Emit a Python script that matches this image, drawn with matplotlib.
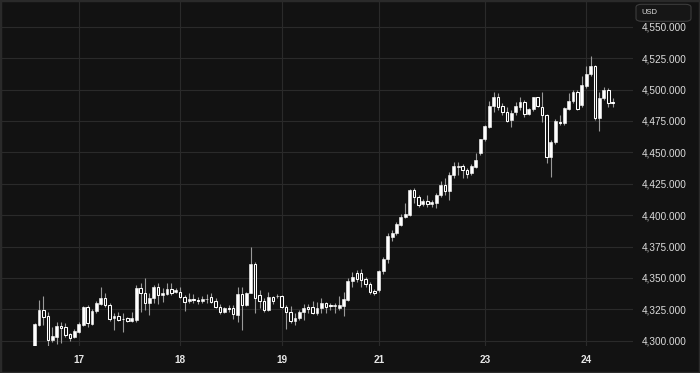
import matplotlib
matplotlib.use("Agg")
import matplotlib.pyplot as plt
from matplotlib.patches import FancyBboxPatch, Rectangle
import numpy as np

# hourly candles, index 0..131
opens = [4295.0, 4312.5, 4324.5, 4319.7, 4300.2, 4303.2, 4311.7, 4310.6, 4305.1, 4303.2,
         4307.2, 4312.5, 4326.6, 4313.3, 4323.9, 4329.2, 4333.7, 4328.4, 4317.8, 4319.7,
         4317.3, 4317.8, 4316.0, 4316.5, 4341.7, 4338.3, 4330.3, 4333.7, 4342.5, 4336.4,
         4337.2, 4341.2, 4338.5, 4339.0, 4334.6, 4331.6, 4333.0, 4332.6, 4331.6, 4333.0,
         4334.6, 4331.6, 4327.1, 4323.1, 4325.8, 4326.3, 4320.5, 4336.9, 4328.4, 4338.3,
         4360.8, 4336.5, 4332.0, 4324.5, 4334.5, 4335.3, 4335.6, 4326.6, 4323.1, 4316.0,
         4317.8, 4322.6, 4326.8, 4326.6, 4321.8, 4325.8, 4329.7, 4328.0, 4327.6, 4326.3,
         4327.6, 4332.4, 4347.8, 4353.6, 4353.6, 4348.8, 4344.9, 4339.8, 4340.3, 4355.3,
         4364.8, 4382.8, 4385.8, 4392.1, 4398.2, 4400.1, 4420.0, 4414.6, 4408.5, 4411.4,
         4408.8, 4409.9, 4416.0, 4424.0, 4419.6, 4431.6, 4438.3, 4439.1, 4435.9, 4433.2,
         4438.5, 4449.2, 4460.3, 4470.4, 4486.9, 4493.8, 4486.9, 4482.4, 4475.7, 4481.8,
         4486.3, 4490.3, 4480.4, 4484.2, 4493.7, 4486.3, 4479.6, 4445.9, 4458.4, 4474.5,
         4473.0, 4484.5, 4490.7, 4498.2, 4487.6, 4502.7, 4512.3, 4518.9, 4477.5, 4492.9,
         4499.5, 4489.6]
highs = [4314.0, 4332.4, 4335.6, 4323.1, 4311.2, 4315.2, 4315.2, 4314.4, 4306.2, 4309.0,
         4315.2, 4327.6, 4328.4, 4325.0, 4331.9, 4342.5, 4337.7, 4329.8, 4321.8, 4323.1,
         4322.3, 4319.1, 4323.1, 4344.4, 4345.7, 4349.7, 4338.3, 4344.4, 4345.7, 4341.7,
         4346.2, 4346.2, 4341.7, 4343.0, 4336.4, 4337.7, 4337.2, 4334.6, 4335.6, 4337.2,
         4338.3, 4333.8, 4329.2, 4327.1, 4328.4, 4328.4, 4343.0, 4343.0, 4339.0, 4374.9,
         4362.9, 4340.0, 4334.0, 4339.0, 4335.6, 4337.1, 4336.2, 4328.4, 4327.6, 4321.7,
         4324.5, 4329.2, 4329.2, 4331.6, 4331.1, 4333.7, 4331.1, 4329.7, 4329.7, 4335.6,
         4339.0, 4349.6, 4355.0, 4356.3, 4356.8, 4351.1, 4347.0, 4340.9, 4356.0, 4366.3,
         4385.5, 4388.5, 4394.8, 4400.6, 4409.6, 4420.6, 4421.3, 4416.0, 4413.2, 4416.0,
         4412.0, 4417.3, 4427.4, 4429.3, 4434.6, 4442.6, 4442.6, 4440.9, 4437.3, 4440.6,
         4449.7, 4461.0, 4471.8, 4491.1, 4498.3, 4497.0, 4489.0, 4485.8, 4483.7, 4490.3,
         4493.7, 4491.6, 4485.0, 4494.2, 4494.2, 4498.2, 4480.2, 4459.7, 4476.2, 4479.6,
         4485.8, 4496.9, 4499.6, 4499.6, 4510.7, 4518.7, 4526.6, 4519.4, 4498.2, 4501.7,
         4500.9, 4492.9]
lows = [4294.0, 4311.7, 4312.5, 4295.8, 4299.3, 4297.4, 4298.0, 4303.2, 4300.1, 4301.9,
        4306.4, 4311.7, 4311.2, 4312.5, 4321.8, 4328.4, 4327.1, 4316.0, 4308.5, 4316.0,
        4307.2, 4315.2, 4315.2, 4315.0, 4323.1, 4324.4, 4320.5, 4329.8, 4329.2, 4331.1,
        4336.4, 4336.4, 4337.7, 4333.8, 4324.0, 4330.3, 4329.8, 4329.2, 4330.3, 4330.3,
        4329.8, 4325.8, 4321.3, 4321.8, 4323.1, 4317.0, 4315.2, 4308.5, 4327.6, 4337.7,
        4322.3, 4326.0, 4322.5, 4323.5, 4329.2, 4333.7, 4325.8, 4309.0, 4313.8, 4312.5,
        4316.4, 4316.9, 4322.0, 4321.3, 4320.5, 4321.8, 4322.3, 4324.5, 4321.8, 4324.5,
        4319.6, 4331.9, 4343.0, 4346.9, 4343.0, 4343.0, 4337.2, 4336.4, 4339.0, 4353.0,
        4361.6, 4379.5, 4384.2, 4391.3, 4397.4, 4399.2, 4409.3, 4406.5, 4407.2, 4406.8,
        4406.8, 4406.0, 4414.6, 4416.0, 4412.4, 4429.2, 4431.9, 4429.2, 4429.2, 4431.9,
        4437.9, 4448.0, 4459.3, 4469.0, 4482.4, 4483.7, 4479.7, 4474.4, 4470.3, 4479.6,
        4483.6, 4478.3, 4479.6, 4483.1, 4485.8, 4474.3, 4441.7, 4430.6, 4456.6, 4471.7,
        4471.7, 4483.6, 4488.9, 4483.6, 4486.3, 4500.9, 4510.7, 4475.7, 4467.2, 4491.6,
        4485.8, 4485.8]
closes = [4313.3, 4324.5, 4319.1, 4300.6, 4303.8, 4311.7, 4310.1, 4304.5, 4301.9, 4308.0,
          4313.3, 4326.6, 4313.8, 4323.9, 4329.8, 4333.7, 4328.4, 4317.0, 4319.7, 4316.5,
          4317.0, 4316.0, 4317.8, 4341.7, 4338.3, 4330.3, 4333.7, 4342.5, 4336.4, 4338.3,
          4341.2, 4337.7, 4340.4, 4334.6, 4331.1, 4333.2, 4332.8, 4332.0, 4333.2, 4333.2,
          4331.1, 4326.6, 4323.1, 4325.8, 4325.5, 4321.3, 4336.9, 4328.4, 4338.3, 4360.8,
          4333.7, 4332.0, 4324.5, 4334.6, 4331.8, 4335.8, 4326.6, 4323.1, 4316.0, 4318.3,
          4322.6, 4326.3, 4325.2, 4321.8, 4326.3, 4329.7, 4327.1, 4327.8, 4327.9, 4328.4,
          4332.9, 4347.8, 4350.4, 4348.8, 4348.3, 4344.9, 4339.0, 4337.7, 4355.7, 4365.2,
          4383.3, 4386.1, 4393.0, 4398.8, 4400.8, 4420.0, 4414.2, 4408.0, 4411.3, 4408.6,
          4410.7, 4416.0, 4424.0, 4419.5, 4432.2, 4439.1, 4438.6, 4435.6, 4432.7, 4439.1,
          4443.9, 4460.3, 4471.0, 4486.9, 4493.8, 4486.3, 4482.4, 4475.2, 4481.6, 4487.1,
          4490.3, 4480.4, 4484.2, 4494.0, 4486.8, 4479.6, 4446.5, 4458.4, 4475.1, 4473.0,
          4485.0, 4491.0, 4497.7, 4484.2, 4503.5, 4512.3, 4518.9, 4477.5, 4492.9, 4499.5,
          4489.0, 4489.3]

day_idx = [10, 33, 56, 78, 102, 125]
day_labels = ["17", "18", "19", "21", "23", "24"]
price_ticks = [4300, 4325, 4350, 4375, 4400, 4425, 4450, 4475, 4500, 4525, 4550]
currency = "USD"

bg = "#121212"
grid_c = "#2a2a2a"
text_c = "#dcdcdc"

W, H = 700, 373
fig = plt.figure(figsize=(W / 100, H / 100), dpi=100, facecolor=bg)
ax = fig.add_axes([0, 27 / H, 633 / W, 346 / H], facecolor=bg)

o = np.array(opens)
h = np.array(highs)
l = np.array(lows)
c = np.array(closes)
x = np.arange(len(o))
up = c >= o

ax.vlines(x, l, h, color="#9a9a9a", linewidth=0.8, zorder=2)
body_lo = np.minimum(o, c)
body_h = np.maximum(np.abs(c - o), 0.5)
ax.bar(x[up], body_h[up], bottom=body_lo[up], width=0.66, color="white",
       edgecolor="white", linewidth=0.4, zorder=3)
ax.bar(x[~up], body_h[~up], bottom=body_lo[~up], width=0.56, color=bg,
       edgecolor="white", linewidth=0.75, zorder=3)

ax.set_xlim(-7.84, 135.6)
ax.set_ylim(4295.8, 4571.3)

ax.set_xticks(day_idx)
ax.set_xticklabels(day_labels, fontfamily="Liberation Sans", fontweight="bold",
                   fontsize=7.2, color="#e6e6e6")
ax.set_yticks(price_ticks)
ax.set_yticklabels([f"{v:,.3f}" for v in price_ticks], fontfamily="Liberation Sans",
                   fontsize=7.2, color=text_c)
ax.yaxis.tick_right()
ax.tick_params(axis="y", length=0, pad=6)
ax.tick_params(axis="x", length=0, pad=6.5)
ax.grid(True, color=grid_c, linewidth=0.8, zorder=0)
ax.set_axisbelow(True)
for s in ax.spines.values():
    s.set_visible(False)

# cover behind the currency box, then the box itself
fig.patches.append(Rectangle((634 / W, (H - 22.5) / H), 62 / W, 22.5 / H,
                             transform=fig.transFigure, facecolor=bg,
                             edgecolor="none", zorder=5))
fig.patches.append(FancyBboxPatch((636 / W, (H - 21.3) / H), 55 / W, 17 / H,
                                  boxstyle="round,pad=0,rounding_size=0.008",
                                  transform=fig.transFigure, facecolor="#161616",
                                  edgecolor="#3c3c3c", linewidth=0.8, zorder=6))
fig.text(641.5 / W, (H - 12.8) / H, currency, fontfamily="Liberation Sans",
         fontsize=5.5, color=text_c, va="center", ha="left", zorder=7)

# outer frame
fig.patches.append(Rectangle((0, 0), 1, 1, transform=fig.transFigure, fill=False,
                             edgecolor="#2a2a2a", linewidth=2.5, zorder=8))

fig.savefig("out.png", dpi=100, facecolor=bg)
